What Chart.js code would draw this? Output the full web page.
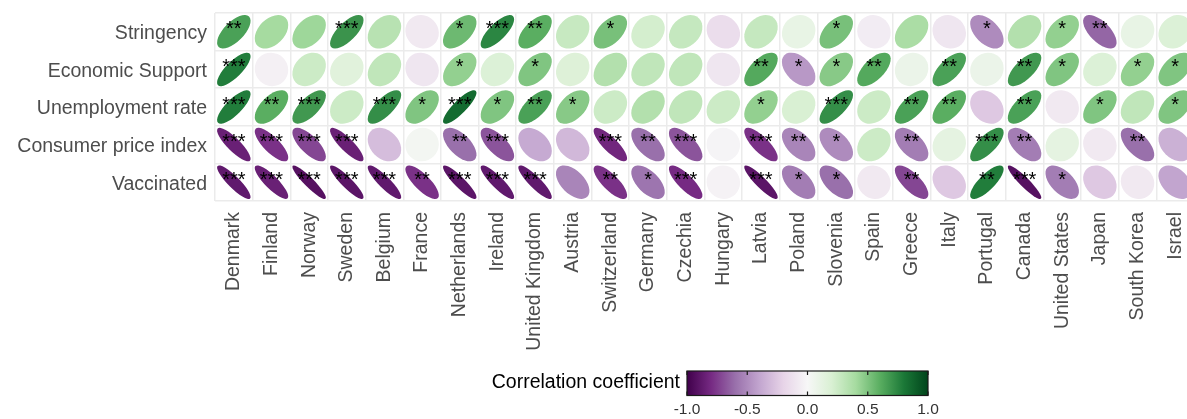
<!DOCTYPE html>
<html>
<head>
<meta charset="utf-8">
<script src="https://cdn.jsdelivr.net/npm/chart.js@4/dist/chart.umd.min.js"></script>
<style>
html, body { margin: 0; padding: 0; overflow: hidden; background: #fff; }
#wrap { width: 1200px; height: 419px; }
</style>
</head>
<body>
<div id="wrap"><canvas id="chart1"></canvas></div>
<script>
var countries = ['Denmark', 'Finland', 'Norway', 'Sweden', 'Belgium', 'France', 'Netherlands', 'Ireland',
  'United Kingdom', 'Austria', 'Switzerland', 'Germany', 'Czechia', 'Hungary', 'Latvia', 'Poland',
  'Slovenia', 'Spain', 'Greece', 'Italy', 'Portugal', 'Canada', 'United States', 'Japan', 'South Korea', 'Israel'];
var variables = ['Stringency', 'Economic Support', 'Unemployment rate', 'Consumer price index', 'Vaccinated'];

var stringency = [0.65, 0.4, 0.42, 0.7, 0.33, -0.08, 0.55, 0.75, 0.6, 0.27, 0.52, 0.22, 0.28, -0.15, 0.28, 0.1,
  0.52, -0.06, 0.38, -0.1, -0.5, 0.35, 0.45, -0.63, 0.1, 0.18];
var stringencyStars = ['**', '', '', '***', '', '', '*', '***', '**', '', '*', '', '', '', '', '',
  '*', '', '', '', '*', '', '*', '**', '', ''];

var economicSupport = [0.78, -0.04, 0.25, 0.15, 0.3, -0.1, 0.45, 0.18, 0.5, 0.17, 0.35, 0.3, 0.3, -0.1, 0.62, -0.45,
  0.48, 0.62, 0.08, 0.65, 0.08, 0.68, 0.5, 0.18, 0.45, 0.5];
var economicSupportStars = ['***', '', '', '', '', '', '*', '', '*', '', '', '', '', '', '**', '*',
  '*', '**', '', '**', '', '**', '*', '', '*', '*'];

var unemployment = [0.78, 0.6, 0.68, 0.25, 0.72, 0.5, 0.85, 0.5, 0.65, 0.48, 0.25, 0.35, 0.3, 0.25, 0.45, 0.2,
  0.72, 0.25, 0.65, 0.6, -0.25, 0.65, -0.08, 0.5, 0.3, 0.5];
var unemploymentStars = ['***', '**', '***', '', '***', '*', '***', '*', '**', '*', '', '', '', '', '*', '',
  '***', '', '**', '**', '', '**', '', '*', '', '*'];

var consumerPrice = [-0.85, -0.78, -0.72, -0.85, -0.3, 0.03, -0.6, -0.68, -0.38, -0.32, -0.82, -0.6, -0.68, -0.02, -0.78, -0.52,
  -0.5, 0.25, -0.55, 0.12, 0.72, -0.55, 0.12, -0.08, -0.6, -0.35];
var consumerPriceStars = ['***', '***', '***', '***', '', '', '**', '***', '', '', '***', '**', '***', '', '***', '**',
  '*', '', '**', '', '***', '**', '', '', '**', ''];

var vaccinated = [-0.88, -0.85, -0.92, -0.9, -0.88, -0.78, -0.9, -0.88, -0.88, -0.52, -0.78, -0.58, -0.8, -0.03, -0.9, -0.55,
  -0.6, -0.08, -0.72, -0.25, 0.78, -0.92, -0.55, -0.25, -0.08, -0.4];
var vaccinatedStars = ['***', '***', '***', '***', '***', '**', '***', '***', '***', '', '**', '*', '***', '', '***', '*',
  '*', '', '**', '', '**', '***', '*', '', '', ''];

var legendTicks = [-1.0, -0.5, 0.0, 0.5, 1.0];
var palette = ['#40004b', '#762a83', '#9970ab', '#c2a5cf', '#e7d4e8', '#f7f7f7',
  '#d9f0d3', '#a6dba0', '#5aae61', '#1b7837', '#00441b'];

var rows = [
  [stringency, stringencyStars],
  [economicSupport, economicSupportStars],
  [unemployment, unemploymentStars],
  [consumerPrice, consumerPriceStars],
  [vaccinated, vaccinatedStars]
];

function hexRgb(h) {
  return [parseInt(h.slice(1, 3), 16), parseInt(h.slice(3, 5), 16), parseInt(h.slice(5, 7), 16)];
}

function corrColor(r) {
  var t = (Math.max(-1, Math.min(1, r)) + 1) / 2 * (palette.length - 1);
  var i = Math.min(Math.floor(t), palette.length - 2);
  var f = t - i;
  var a = hexRgb(palette[i]), b = hexRgb(palette[i + 1]);
  return 'rgb(' + Math.round(a[0] + (b[0] - a[0]) * f) + ',' + Math.round(a[1] + (b[1] - a[1]) * f) + ',' +
    Math.round(a[2] + (b[2] - a[2]) * f) + ')';
}

var FONT = '"Liberation Sans", Arial, sans-serif';

var datasets = rows.map(function(row, ri) {
  return {
    label: variables[ri],
    data: countries.map(function(c, ci) {
      return { x: c, y: variables[ri], corr: row[0][ci], stars: row[1][ci] };
    }),
    pointRadius: 0,
    showLine: false
  };
});

// ellipses + significance stars, placed at the points the scales computed
var ellipsePlugin = {
  id: 'ellipses',
  afterDatasetsDraw: function(chart) {
    var ctx = chart.ctx;
    var xs = chart.scales.x;
    var cell = Math.abs(xs.getPixelForValue(1) - xs.getPixelForValue(0));
    var s = cell * 0.445;
    chart.data.datasets.forEach(function(ds, di) {
      var meta = chart.getDatasetMeta(di);
      meta.data.forEach(function(pt, i) {
        var r = ds.data[i].corr;
        var a = s * Math.sqrt(1 + Math.abs(r));
        var b = s * Math.sqrt(1 - Math.abs(r));
        ctx.save();
        ctx.fillStyle = corrColor(r);
        ctx.beginPath();
        ctx.ellipse(pt.x, pt.y, a, b, r >= 0 ? -Math.PI / 4 : Math.PI / 4, 0, Math.PI * 2);
        ctx.fill();
        if (ds.data[i].stars) {
          ctx.fillStyle = '#000';
          ctx.font = '20px ' + FONT;
          ctx.textAlign = 'center';
          ctx.textBaseline = 'alphabetic';
          ctx.fillText(ds.data[i].stars, pt.x, pt.y + 3.5);
        }
        ctx.restore();
      });
    });
  }
};

// colour bar legend
var colorbarPlugin = {
  id: 'colorbar',
  afterDraw: function(chart) {
    var ctx = chart.ctx;
    var x0 = 687, x1 = 928, y0 = 371, y1 = 395.5;
    ctx.save();
    var g = ctx.createLinearGradient(x0, 0, x1, 0);
    palette.forEach(function(c, i) { g.addColorStop(i / (palette.length - 1), c); });
    ctx.fillStyle = g;
    ctx.fillRect(x0, y0, x1 - x0, y1 - y0);
    ctx.strokeStyle = '#1a1a1a';
    ctx.lineWidth = 1.2;
    ctx.strokeRect(x0, y0, x1 - x0, y1 - y0);
    ctx.fillStyle = '#333';
    ctx.font = '15.5px ' + FONT;
    ctx.textAlign = 'center';
    ctx.textBaseline = 'middle';
    legendTicks.forEach(function(v) {
      var px = x0 + (v + 1) / 2 * (x1 - x0);
      ctx.beginPath();
      ctx.moveTo(px, y0); ctx.lineTo(px, y0 + 4);
      ctx.moveTo(px, y1); ctx.lineTo(px, y1 - 4);
      ctx.stroke();
      ctx.fillText(v.toFixed(1), px, 410);
    });
    ctx.fillStyle = '#000';
    ctx.font = '19.5px ' + FONT;
    ctx.textAlign = 'right';
    ctx.fillText('Correlation coefficient', 680, 383);
    ctx.restore();
  }
};

new Chart(document.getElementById('chart1'), {
  type: 'scatter',
  data: { datasets: datasets },
  plugins: [ellipsePlugin, colorbarPlugin],
  options: {
    responsive: true,
    maintainAspectRatio: false,
    devicePixelRatio: 1,
    animation: false,
    events: [],
    layout: { padding: { top: 13, right: 6, left: 0, bottom: 0 } },
    plugins: { legend: { display: false }, tooltip: { enabled: false } },
    scales: {
      x: {
        type: 'category',
        labels: countries,
        offset: true,
        position: 'bottom',
        grid: { offset: true, color: '#ebebeb', lineWidth: 1.5, drawTicks: false },
        border: { display: false },
        ticks: {
          autoSkip: false, minRotation: 90, maxRotation: 90, padding: 11,
          color: '#4d4d4d', font: { family: FONT, size: 19.5 }
        },
        afterFit: function(scale) {
          scale.height = 218;
          scale.paddingLeft = 0;
          scale.paddingRight = 0;
        }
      },
      y: {
        type: 'category',
        labels: variables,
        offset: true,
        grid: { offset: true, color: '#ebebeb', lineWidth: 1.5, drawTicks: false },
        border: { display: false },
        ticks: { padding: 8, labelOffset: 2, color: '#4d4d4d', font: { family: FONT, size: 19.5 } },
        afterFit: function(scale) {
          scale.width = 215;
          scale.paddingTop = 0;
          scale.paddingBottom = 0;
        }
      }
    }
  }
});
</script>
</body>
</html>
